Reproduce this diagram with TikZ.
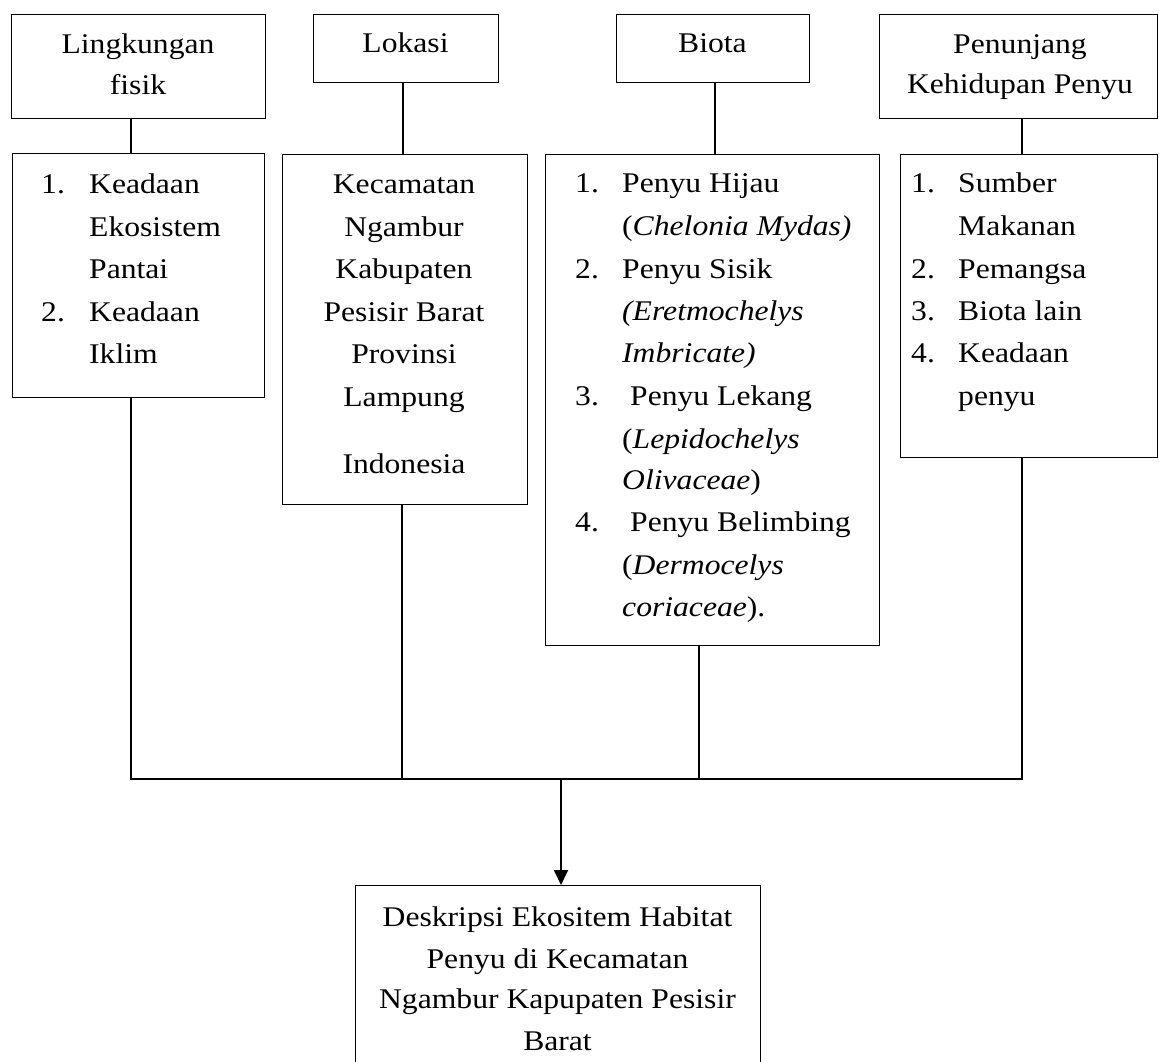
\documentclass[tikz,border=0pt]{standalone}
\usepackage{fontspec}
\setmainfont{Liberation Serif}[FakeStretch=1.11]
\usetikzlibrary{arrows.meta}
\begin{document}
\begin{tikzpicture}[x=1pt,y=-1pt,
  box/.style={draw=black,line width=1.3pt,inner sep=0pt,anchor=north west},
  txt/.style={inner sep=0pt,font=\fontsize{28.5}{42.5}\selectfont},
  tl/.style={txt,anchor=base west},
  tc/.style={txt,anchor=base},
  ln/.style={line width=1.3pt}]
\useasboundingbox (0,0) rectangle (1159,1062);
\clip (0,0) rectangle (1159,1062);
% top row
\node[box,minimum width=254pt,minimum height=104pt] (L1) at (11,14) {};
\node[box,minimum width=185pt,minimum height=68pt] (L2) at (313,14) {};
\node[box,minimum width=193pt,minimum height=68pt] (L3) at (616,14) {};
\node[box,minimum width=278pt,minimum height=104pt] (L4) at (879,14) {};
% second row
\node[box,minimum width=252pt,minimum height=244pt] (B1) at (12,153) {};
\node[box,minimum width=245pt,minimum height=350pt] (B2) at (282,154) {};
\node[box,minimum width=334pt,minimum height=491pt] (B3) at (545,154) {};
\node[box,minimum width=257pt,minimum height=303pt] (B4) at (900,154) {};
% final
\node[box,minimum width=405pt,minimum height=200pt] (F) at (355,885) {};
% connector positions
\coordinate (c1) at (131,0);
\coordinate (c2) at (403,0);
\coordinate (c2b) at (402,0);
\coordinate (c3) at (715,0);
\coordinate (c3b) at (699,0);
\coordinate (c4) at (1022,0);
\coordinate (c5) at (561,0);
\coordinate (bus) at (0,779);
\draw[ln] (L1.south -| c1) -- (B1.north -| c1);
\draw[ln] (L2.south -| c2) -- (B2.north -| c2);
\draw[ln] (L3.south -| c3) -- (B3.north -| c3);
\draw[ln] (L4.south -| c4) -- (B4.north -| c4);
\draw[ln] (B1.south -| c1) -- (c1 |- bus) -- (c4 |- bus) -- (B4.south -| c4);
\draw[ln] (B2.south -| c2b) -- (c2b |- bus);
\draw[ln] (B3.south -| c3b) -- (c3b |- bus);
\draw[line width=1.8pt,-{Triangle[length=15pt,width=14pt]}] (c5 |- bus) -- (F.north -| c5);
% top texts
\node[tc] (L1a) at (138,54) {Lingkungan};
\node[tc] (L1b) at (138,95) {fisik};
\node[tc] (L2a) at (405.5,53) {Lokasi};
\node[tc] (L3a) at (712.5,53) {Biota};
\node[tc] (L4a) at (1020,54) {Penunjang};
\node[tc] (L4b) at (1020,94) {Kehidupan Penyu};
% B1
\node[tl] (n11) at (41,193) {1.};
\node[tl] (t11) at (89,193) {Keadaan};
\node[tl] (t12) at (89,236) {Ekosistem};
\node[tl] (t13) at (89,278) {Pantai};
\node[tl] (n12) at (41,321) {2.};
\node[tl] (t14) at (89,321) {Keadaan};
\node[tl] (t15) at (89,363) {Iklim};
% B2
\node[tc] (t21) at (404,193) {Kecamatan};
\node[tc] (t22) at (404,236) {Ngambur};
\node[tc] (t23) at (404,278) {Kabupaten};
\node[tc] (t24) at (404,321) {Pesisir Barat};
\node[tc] (t25) at (404,363) {Provinsi};
\node[tc] (t26) at (404,406) {Lampung};
\node[tc] (t27) at (404,473) {Indonesia};
% B3
\node[tl] (n31) at (575,192.5) {1.};
\node[tl] (t31) at (622,192.5) {Penyu Hijau};
\node[tl] (t32) at (622,235) {(\textit{Chelonia Mydas)}};
\node[tl] (n32) at (575,278) {2.};
\node[tl] (t33) at (622,278) {Penyu Sisik};
\node[tl] (t34) at (622,320) {\textit{(Eretmochelys}};
\node[tl] (t35) at (622,362) {\textit{Imbricate)}};
\node[tl] (n33) at (575,405) {3.};
\node[tl] (t36) at (630,405) {Penyu Lekang};
\node[tl] (t37) at (622,448) {(\textit{Lepidochelys}};
\node[tl] (t38) at (622,489) {\textit{Olivaceae})};
\node[tl] (n34) at (575,531) {4.};
\node[tl] (t39) at (630,531) {Penyu Belimbing};
\node[tl] (t3a) at (622,574) {(\textit{Dermocelys}};
\node[tl] (t3b) at (622,616) {\textit{coriaceae}).};
% B4
\node[tl] (n41) at (911,192) {1.};
\node[tl] (t41) at (958,192) {Sumber};
\node[tl] (t42) at (958,235) {Makanan};
\node[tl] (n42) at (911,278) {2.};
\node[tl] (t43) at (958,278) {Pemangsa};
\node[tl] (n43) at (911,320) {3.};
\node[tl] (t44) at (958,320) {Biota lain};
\node[tl] (n44) at (911,362) {4.};
\node[tl] (t45) at (958,362) {Keadaan};
\node[tl] (t46) at (958,405) {penyu};
% final
\node[tc] (f1) at (557.5,926) {Deskripsi Ekositem Habitat};
\node[tc] (f2) at (557.5,968) {Penyu di Kecamatan};
\node[tc] (f3) at (557.5,1008) {Ngambur Kapupaten Pesisir};
\node[tc] (f4) at (557.5,1050) {Barat};
\end{tikzpicture}
\end{document}
